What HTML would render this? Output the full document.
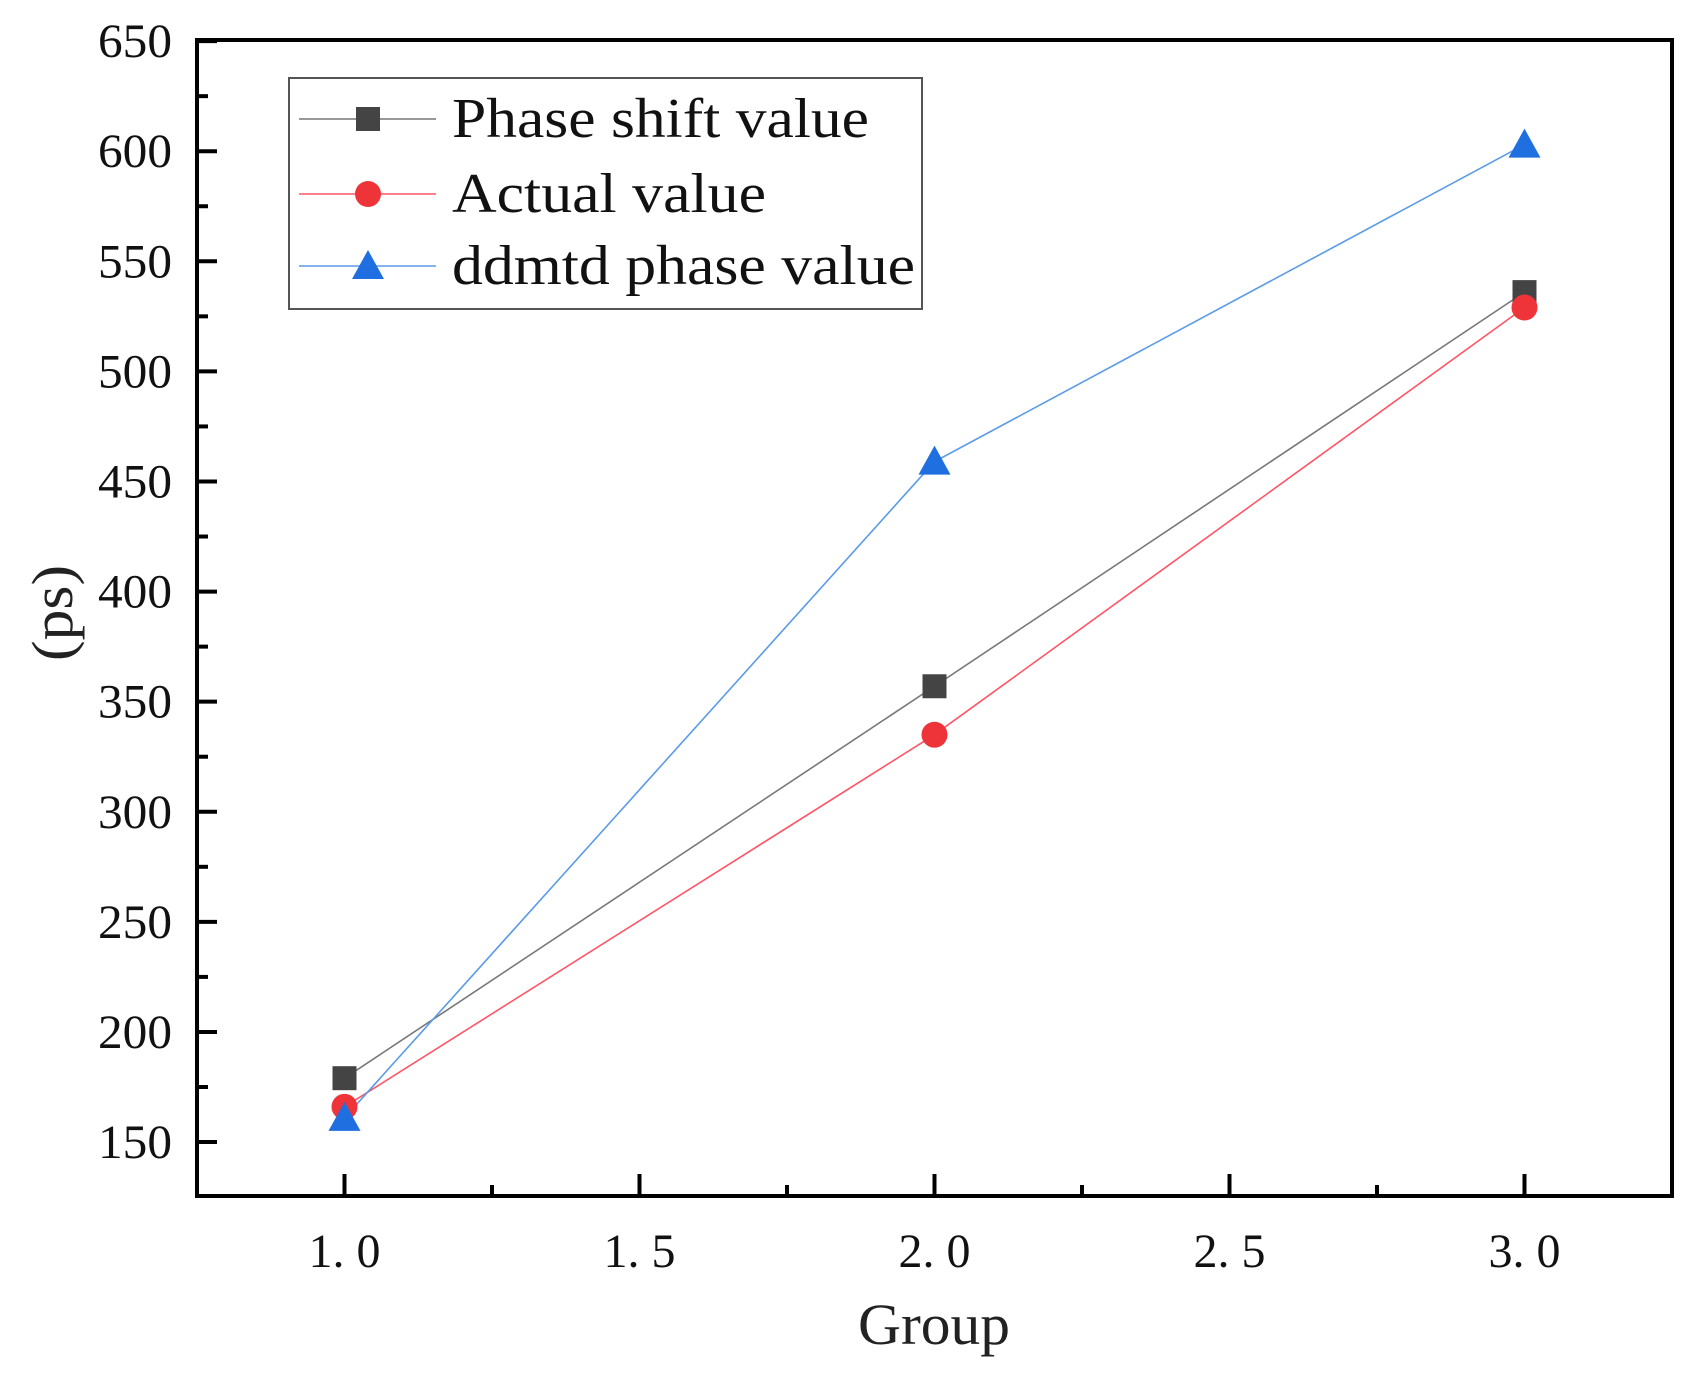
<!DOCTYPE html>
<html><head><meta charset="utf-8"><style>
html,body{margin:0;padding:0;background:#fff;}
svg{display:block;font-family:"Liberation Serif",serif;}
</style></head><body>
<svg id="chart" width="1687" height="1375" viewBox="0 0 1687 1375" xmlns="http://www.w3.org/2000/svg">
<rect width="1687" height="1375" fill="#fff"/>
<g id="plot"></g>
<text x="934" y="1344" font-size="58" text-anchor="middle" fill="#222" textLength="152" lengthAdjust="spacingAndGlyphs">Group</text>
<text transform="translate(72,613) rotate(-90)" font-size="58" text-anchor="middle" fill="#222" textLength="96" lengthAdjust="spacingAndGlyphs">(ps)</text>
</svg>
<script>
const categories=[1.0,2.0,3.0];
const phaseShift=[179,357,536];
const actual=[166,335,529];
const ddmtd=[161,459,603];
const yTicks=[150,200,250,300,350,400,450,500,550,600,650];
const xTicks=[1.0,1.5,2.0,2.5,3.0];
const xTickLabels=["1. 0","1. 5","2. 0","2. 5","3. 0"];
const legendLabels=["Phase shift value","Actual value","ddmtd phase value"];
const legendWidths=[417,314,463];

const L=197,R=1672,T=40,B=1196;
const xMin=0.75,xMax=3.25,yMin=125.5,yMax=650.5;
const xs=v=>L+(v-xMin)/(xMax-xMin)*(R-L);
const ys=v=>B-(v-yMin)/(yMax-yMin)*(B-T);
const NS="http://www.w3.org/2000/svg";
const g=document.getElementById('plot');
function mk(tag,attrs,parent){const e=document.createElementNS(NS,tag);for(const k in attrs)e.setAttribute(k,attrs[k]);(parent||g).appendChild(e);return e;}

yTicks.forEach((v,i)=>{
  const t=mk('line',{x1:L,x2:L+20,y1:ys(v),y2:ys(v),stroke:'#000','stroke-width':4});
  
  
  if(i<yTicks.length-1){const m=mk('line',{x1:L,x2:L+11,y1:ys(v+25),y2:ys(v+25),stroke:'#000','stroke-width':4});
    
    }
  const tx=mk('text',{x:172,y:ys(v)+16,'font-size':48,'text-anchor':'end',fill:'#111',textLength:74,lengthAdjust:'spacingAndGlyphs'});
  tx.textContent=v;
  
  
});
xTicks.forEach((v,i)=>{
  const t=mk('line',{x1:xs(v),x2:xs(v),y1:B,y2:B-22,stroke:'#000','stroke-width':4});
  
  
  if(i<xTicks.length-1){const m=mk('line',{x1:xs(v+0.25),x2:xs(v+0.25),y1:B,y2:B-11,stroke:'#000','stroke-width':4});
    
    }
  const tx=mk('text',{x:xs(v),y:1267,'font-size':48,'text-anchor':'middle',fill:'#111',textLength:72,lengthAdjust:'spacingAndGlyphs'});
  tx.textContent=xTickLabels[i];
  
  
});
const fr=mk('rect',{x:L,y:T,width:R-L,height:B-T,fill:'none',stroke:'#000','stroke-width':4});



function marker(type,x,y,color,parent){
  if(type==='sq')return mk('rect',{x:x-12,y:y-12,width:24,height:24,fill:color},parent);
  if(type==='ci')return mk('circle',{cx:x,cy:y,r:13,fill:color},parent);
  return mk('polygon',{points:`${x},${y-16} ${x-16},${y+13} ${x+16},${y+13}`,fill:color},parent);
}
const series=[{d:phaseShift,line:'#777',fill:'#444',m:'sq',n:'phase-shift'},
 {d:actual,line:'#f56',fill:'#ee3438',m:'ci',n:'actual'},
 {d:ddmtd,line:'#5a9be8',fill:'#1f6fe0',m:'tr',n:'ddmtd'}];
series.forEach(s=>{
  const pl=mk('polyline',{points:s.d.map((v,i)=>xs(categories[i])+','+ys(v)).join(' '),fill:'none',stroke:s.line,'stroke-width':1.6});
  
  
});
series.forEach(s=>{
  s.d.forEach((v,i)=>{
    const mm=marker(s.m,xs(categories[i]),ys(v),s.fill);
    
    
  });
});
const lg=mk('g',{});


mk('rect',{x:289,y:78,width:633,height:231,fill:'#fff',stroke:'#555','stroke-width':2},lg);
const ly=[119,194,266];
series.forEach((s,i)=>{
  const e=mk('g',{},lg);
  
  
  mk('line',{x1:299,x2:436,y1:ly[i],y2:ly[i],stroke:s.line,'stroke-width':1.6},e);
  marker(s.m,368,ly[i],s.fill,e);
  const t=mk('text',{x:452,y:ly[i]+18,'font-size':56,fill:'#111',textLength:legendWidths[i],lengthAdjust:'spacingAndGlyphs'},e);
  t.textContent=legendLabels[i];
});
</script>
</body></html>
